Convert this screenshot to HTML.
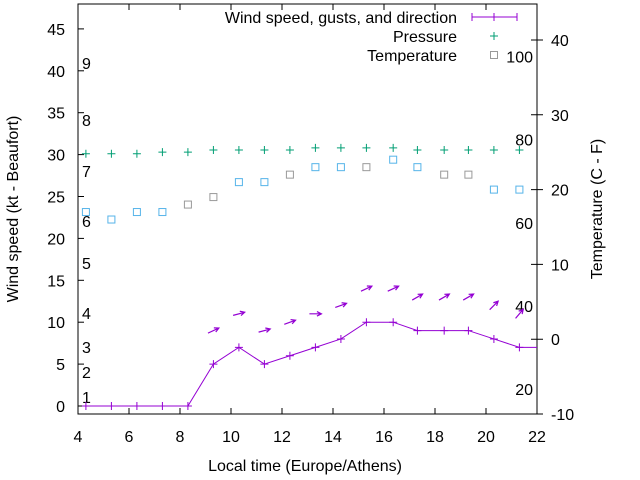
<!DOCTYPE html>
<html><head><meta charset="utf-8"><style>
body{margin:0;background:#fff}
svg{display:block;font-family:"Liberation Sans",sans-serif;font-size:16px}
</style></head><body>
<svg id="c" width="640" height="480"></svg>
<script>
const hours=[4.31,5.31,6.31,7.31,8.31,9.31,10.31,11.31,12.31,13.31,14.31,15.31,16.36,17.31,18.36,19.31,20.31,21.31];
const wind=[0,0,0,0,0,5,7,5,6,7,8,10,10,9,9,9,8,7];
const pressure=[30.1,30.1,30.1,30.3,30.3,30.55,30.55,30.55,30.55,30.8,30.8,30.8,30.8,30.55,30.55,30.55,30.55,30.55];
const temps=[17,16,17,17,18,19,21,21,22,23,23,23,24,23,22,22,20,20];
const tempGray=[0,0,0,0,1,1,0,0,1,0,0,1,0,0,1,1,0,0];
const gustHours=[9.31,10.31,11.31,12.31,13.31,14.31,15.31,16.36,17.31,18.36,19.31,20.31,21.31];
const gusts=[9,11,9,10,11,12,14,14,13,13,13,12,11];
const gustDir=[25,15,15,20,0,20,25,25,30,30,30,45,50];
const xTicks=[4,6,8,10,12,14,16,18,20,22];
const yTicks=[0,5,10,15,20,25,30,35,40,45];
const y2Ticks=[-10,0,10,20,30,40];
const beaufort=[[1,397],[2,372],[3,347],[4,313],[5,263],[6,221],[7,171],[8,120],[9,63]];
const fahr=[20,40,60,80,100];

const L=78,R=537,T=4,B=414;
const X=h=>L+(h-4)/18*(R-L);
const Y=v=>406-v*8.38;
const Y2=t=>414-(t+10)*7.48;
const svg=document.getElementById('c');const NS='http://www.w3.org/2000/svg';
function mk(tag,a,txt){const e=document.createElementNS(NS,tag);for(const k in a)e.setAttribute(k,a[k]);if(txt!==undefined)e.textContent=txt;svg.appendChild(e);return e;}
let e;
e=mk('rect',{x:L,y:T,width:R-L,height:B-T,fill:'none',stroke:'#000','stroke-width':1});


xTicks.forEach(t=>{const x=X(t);
e=mk('path',{d:`M${x} ${B}v-6M${x} ${T}v6`,stroke:'#000'});


e=mk('text',{x:x,y:442,'text-anchor':'middle'},t);

});
yTicks.forEach(t=>{const y=Y(t);
e=mk('path',{d:`M${L} ${y}h6`,stroke:'#000'});


e=mk('text',{x:65,y:y+6,'text-anchor':'end'},t);

});
y2Ticks.forEach(t=>{const y=Y2(t);
e=mk('path',{d:`M${R} ${y}h-6M${R} ${y}h6`,stroke:'#000'});


e=mk('text',{x:551,y:y+6},t);

});
beaufort.forEach(b=>{e=mk('text',{x:82,y:b[1]+6},b[0]);

});
fahr.forEach(f=>{const y=Y2((f-32)*5/9);e=mk('text',{x:533,y:y+6,'text-anchor':'end'},f);

});
e=mk('text',{x:305,y:471,'text-anchor':'middle'},'Local time (Europe/Athens)');


e=mk('text',{x:18,y:209,'text-anchor':'middle',transform:'rotate(-90 18 209)'},'Wind speed (kt - Beaufort)');


e=mk('text',{x:602,y:209,'text-anchor':'middle',transform:'rotate(-90 602 209)'},'Temperature (C - F)');


let d=hours.map((h,i)=>(i?'L':'M')+X(h)+' '+Y(wind[i])).join('')+'L'+R+' '+Y(wind[wind.length-1]);
e=mk('path',{d:d,fill:'none',stroke:'#9400d3','stroke-width':1});


hours.forEach((h,i)=>{const x=X(h),y=Y(wind[i]);
e=mk('path',{d:`M${x-4} ${y}h8M${x} ${y-4}v8`,stroke:'#9400d3'});

});
gustHours.forEach((h,i)=>{const x=X(h),y=Y(gusts[i]);const a=gustDir[i]*Math.PI/180;
const dx=Math.cos(a)*6,dy=-Math.sin(a)*6;
const hx=x+dx,hy=y+dy;const a1=a+Math.PI*0.85,a2=a-Math.PI*0.85;
e=mk('path',{d:`M${x-dx} ${y-dy}L${hx} ${hy}M${hx+Math.cos(a1)*5} ${hy-Math.sin(a1)*5}L${hx} ${hy}L${hx+Math.cos(a2)*5} ${hy-Math.sin(a2)*5}`,stroke:'#9400d3',fill:'none','stroke-width':1.2});

});
hours.forEach((h,i)=>{const x=X(h),y=Y(pressure[i]);
e=mk('path',{d:`M${x-4} ${y}h8M${x} ${y-4}v8`,stroke:'#009e73'});

});
hours.forEach((h,i)=>{const x=X(h),y=Y2(temps[i]);
e=mk('rect',{x:x-3.5,y:y-3.5,width:7,height:7,fill:'none',stroke:tempGray[i]?'#999':'#56b4e9'});

});
const lg=[['Wind speed, gusts, and direction',17],['Pressure',36],['Temperature',55]];
lg.forEach(l=>{e=mk('text',{x:457,y:l[1]+6,'text-anchor':'end'},l[0]);

});
e=mk('path',{d:'M472 17h45M472 13v8M494 13v8M517 13v8',stroke:'#9400d3'});


e=mk('path',{d:'M490 36h8M494 32v8',stroke:'#009e73'});


e=mk('rect',{x:490.5,y:51.5,width:7,height:7,fill:'none',stroke:'#999'});


</script>
</body></html>
